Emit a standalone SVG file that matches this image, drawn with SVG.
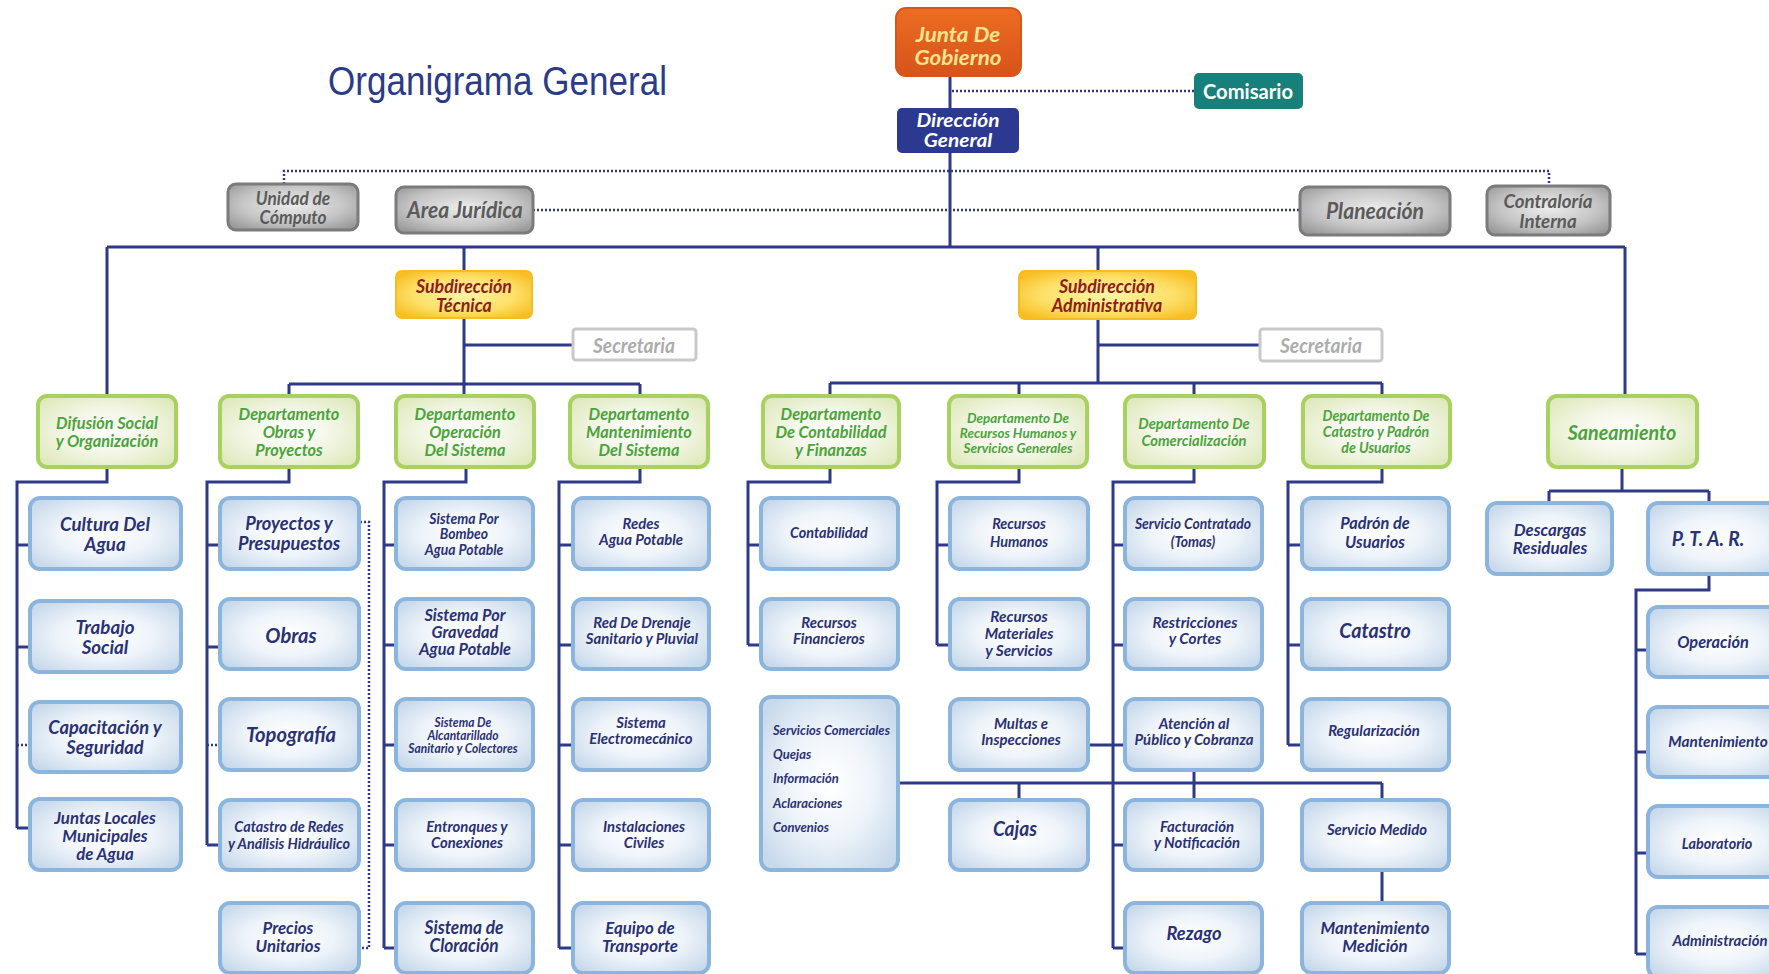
<svg xmlns="http://www.w3.org/2000/svg" width="1769" height="974" viewBox="0 0 1769 974">
<defs>
<radialGradient id="gBlue" cx="50%" cy="50%" r="62%"><stop offset="0" stop-color="#ffffff"/><stop offset="0.5" stop-color="#eef4fa"/><stop offset="1" stop-color="#c8d9eb"/></radialGradient>
<radialGradient id="gGreen" cx="50%" cy="50%" r="62%"><stop offset="0" stop-color="#ffffff"/><stop offset="0.5" stop-color="#f3f6e6"/><stop offset="1" stop-color="#dfe9bd"/></radialGradient>
<radialGradient id="gGray" cx="50%" cy="45%" r="65%"><stop offset="0" stop-color="#ececec"/><stop offset="0.6" stop-color="#c6c6c6"/><stop offset="1" stop-color="#9a9a9a"/></radialGradient>
<radialGradient id="gYellow" cx="50%" cy="50%" r="62%"><stop offset="0" stop-color="#fff4a8"/><stop offset="0.6" stop-color="#fde068"/><stop offset="1" stop-color="#f8be24"/></radialGradient>
<linearGradient id="gOrange" x1="0" y1="0" x2="0" y2="1"><stop offset="0" stop-color="#ec6c22"/><stop offset="1" stop-color="#d6541a"/></linearGradient>
</defs>
<style>
.ln{stroke:#2e3a88;stroke-width:3;fill:none}
.dt{stroke:#2e3a88;stroke-width:2.5;stroke-dasharray:2 2;fill:none}
.cb{fill:url(#gBlue);stroke:#8bb5dc;stroke-width:4}
.gb{fill:url(#gGreen);stroke:#a9d15f;stroke-width:4}
.yb{fill:url(#gYellow);stroke:#f6bd22;stroke-width:2}
.xb{fill:url(#gGray);stroke:#7b7b7b;stroke-width:3}
.n text{font-family:Lato,"Open Sans","Liberation Sans",sans-serif;font-weight:bold;font-style:italic;text-anchor:middle;dominant-baseline:central;transform-box:fill-box;transform-origin:center;transform:scaleX(0.96)}
.n text.ls{text-anchor:start;transform-origin:left center}
.n text.up{font-style:normal}
.tc{fill:#2a3175}
.tg{fill:#4ca33c}
.tx{fill:#5b5b5b}
.ty{fill:#8e1c1c}
</style>
<rect x="0" y="0" width="1769" height="974" fill="#ffffff"/>
<text x="328" y="95" font-family="'Liberation Sans',Arial,sans-serif" font-size="41" fill="#2c3a8a" textLength="339" lengthAdjust="spacingAndGlyphs">Organigrama General</text>

<g id="connectors">
<path class="ln" d="M950 76V108M950 153V247M107 247H1625M107 247V396M464 247V271M1098 247V271M1625 247V396"/>
<path class="ln" d="M464 318V384M464 345H573M289 384H640M289 384V396M464 384V396M640 384V396"/>
<path class="ln" d="M1098 319V383M1098 345H1260M830 383H1382M830 383V396M1019 383V396M1194 383V396M1382 383V396"/>
<path class="ln" d="M107 467V482H17V828M17 545H30M17 647H30M17 828H30"/>
<path class="ln" d="M289 467V482H207V845M207 545H220M207 647H220M207 845H220"/>
<path class="ln" d="M466 467V482H384V948M384 545H396M384 645H396M384 745H396M384 845H396M384 948H396"/>
<path class="ln" d="M640 467V482H559V948M559 545H573M559 645H573M559 745H573M559 845H573M559 948H573"/>
<path class="ln" d="M830 467V482H748V645M748 545H761M748 645H761"/>
<path class="ln" d="M1019 467V482H937V645M937 545H950M937 645H950"/>
<path class="ln" d="M1194 467V482H1113V948M1113 545H1125M1113 645H1125M1088 745H1125M1113 845H1125M1113 948H1125"/>
<path class="ln" d="M1382 467V482H1288V745M1288 545H1302M1288 645H1302M1288 745H1302"/>
<path class="ln" d="M898 783H1382M1019 783V800M1194 770V800M1382 783V800M1382 870V903"/>
<path class="ln" d="M1622 467V491M1549 491H1709M1549 491V503M1709 491V503M1709 574V590H1636V954M1636 650H1648M1636 752H1648M1636 853H1648M1636 954H1648"/>
<path class="dt" d="M952 91H1194M284 184V171H1549V186M533 210H1300"/>
<path class="dt" d="M17 745H30M207 745H220M360 522H369V948H359"/>
</g>

<g id="junta" class="n"><rect x="896" y="8" width="125" height="68" rx="10" fill="url(#gOrange)" stroke="#d4561c" stroke-width="2"/><text font-size="21" fill="#fde48e" style="transform:scaleX(1.07)"><tspan x="958" y="34">Junta De</tspan><tspan x="958" y="57">Gobierno</tspan></text></g>
<g id="comisario" class="n"><rect x="1194" y="73" width="109" height="36" rx="5" fill="#17807b"/><text class="up" x="1248" y="91" font-size="21" fill="#ffffff">Comisario</text></g>
<g id="direccion" class="n"><rect x="897" y="108" width="122" height="45" rx="5" fill="#2b3990"/><text font-size="18.5" fill="#ffffff" style="transform:scaleX(1.13)"><tspan x="958" y="120">Dirección</tspan><tspan x="958" y="140">General</tspan></text></g>
<g id="unidad" class="n"><rect x="228" y="184" width="130" height="46" rx="8" class="xb"/><text class="tx" font-size="18"><tspan x="293" y="198">Unidad de</tspan><tspan x="293" y="217">Cómputo</tspan></text></g>
<g id="juridica" class="n"><rect x="396" y="187" width="137" height="46" rx="8" class="xb"/><text class="tx" x="465" y="210" font-size="22">Area Jurídica</text></g>
<g id="planeacion" class="n"><rect x="1300" y="187" width="150" height="48" rx="8" class="xb"/><text class="tx" x="1375" y="211" font-size="22">Planeación</text></g>
<g id="contraloria" class="n"><rect x="1487" y="186" width="123" height="49" rx="8" class="xb"/><text class="tx" font-size="19.5"><tspan x="1548" y="200">Contraloría</tspan><tspan x="1548" y="220">Interna</tspan></text></g>
<g id="subtecnica" class="n"><rect x="396" y="271" width="136" height="47" rx="6" class="yb"/><text class="ty" font-size="18.5"><tspan x="464" y="286">Subdirección</tspan><tspan x="464" y="305">Técnica</tspan></text></g>
<g id="subadmin" class="n"><rect x="1019" y="271" width="177" height="48" rx="6" class="yb"/><text class="ty" font-size="18.5"><tspan x="1107" y="286">Subdirección</tspan><tspan x="1107" y="305">Administrativa</tspan></text></g>
<g id="secretaria1" class="n"><rect x="573" y="329" width="123" height="31" rx="3" fill="#ffffff" stroke="#c9c9c9" stroke-width="3"/><text x="634" y="345" font-size="20" fill="#acacac">Secretaria</text></g>
<g id="secretaria2" class="n"><rect x="1260" y="329" width="122" height="32" rx="3" fill="#ffffff" stroke="#c9c9c9" stroke-width="3"/><text x="1321" y="345" font-size="20" fill="#acacac">Secretaria</text></g>

<g id="difusion" class="n"><rect x="38" y="396" width="138" height="71" rx="9" class="gb"/><text class="tg" font-size="17"><tspan x="107" y="423">Difusión Social</tspan><tspan x="107" y="441">y Organización</tspan></text></g>
<g id="dep-obras" class="n"><rect x="220" y="396" width="138" height="71" rx="9" class="gb"/><text class="tg" font-size="17"><tspan x="289" y="414">Departamento</tspan><tspan x="289" y="432">Obras y</tspan><tspan x="289" y="450">Proyectos</tspan></text></g>
<g id="dep-operacion" class="n"><rect x="396" y="396" width="138" height="71" rx="9" class="gb"/><text class="tg" font-size="17"><tspan x="465" y="414">Departamento</tspan><tspan x="465" y="432">Operación</tspan><tspan x="465" y="450">Del Sistema</tspan></text></g>
<g id="dep-mantenimiento" class="n"><rect x="570" y="396" width="138" height="71" rx="9" class="gb"/><text class="tg" font-size="17"><tspan x="639" y="414">Departamento</tspan><tspan x="639" y="432">Mantenimiento</tspan><tspan x="639" y="450">Del Sistema</tspan></text></g>
<g id="dep-contabilidad" class="n"><rect x="763" y="396" width="136" height="71" rx="9" class="gb"/><text class="tg" font-size="17"><tspan x="831" y="414">Departamento</tspan><tspan x="831" y="432">De Contabilidad</tspan><tspan x="831" y="450">y Finanzas</tspan></text></g>
<g id="dep-rh" class="n"><rect x="949" y="396" width="138" height="71" rx="9" class="gb"/><text class="tg" font-size="14"><tspan x="1018" y="417">Departamento De</tspan><tspan x="1018" y="432">Recursos Humanos y</tspan><tspan x="1018" y="447">Servicios Generales</tspan></text></g>
<g id="dep-comercializacion" class="n"><rect x="1125" y="396" width="139" height="71" rx="9" class="gb"/><text class="tg" font-size="15.3"><tspan x="1194" y="423">Departamento De</tspan><tspan x="1194" y="440">Comercialización</tspan></text></g>
<g id="dep-catastro" class="n"><rect x="1303" y="396" width="147" height="71" rx="9" class="gb"/><text class="tg" font-size="14.7"><tspan x="1376" y="415">Departamento De</tspan><tspan x="1376" y="431">Catastro y Padrón</tspan><tspan x="1376" y="447">de Usuarios</tspan></text></g>
<g id="saneamiento" class="n"><rect x="1548" y="396" width="149" height="71" rx="9" class="gb"/><text class="tg" x="1622" y="432" font-size="20.5">Saneamiento</text></g>

<g id="cultura" class="n"><rect x="30" y="498" width="151" height="71" rx="10" class="cb"/><text class="tc" font-size="19.5"><tspan x="105" y="523">Cultura Del</tspan><tspan x="105" y="543">Agua</tspan></text></g>
<g id="trabajo" class="n"><rect x="30" y="601" width="151" height="71" rx="10" class="cb"/><text class="tc" font-size="19.5"><tspan x="105" y="626">Trabajo</tspan><tspan x="105" y="646">Social</tspan></text></g>
<g id="capacitacion" class="n"><rect x="30" y="702" width="151" height="70" rx="10" class="cb"/><text class="tc" font-size="19"><tspan x="105" y="727">Capacitación y</tspan><tspan x="105" y="747">Seguridad</tspan></text></g>
<g id="juntas" class="n"><rect x="30" y="799" width="151" height="71" rx="10" class="cb"/><text class="tc" font-size="17.5"><tspan x="105" y="817">Juntas Locales</tspan><tspan x="105" y="835">Municipales</tspan><tspan x="105" y="853">de Agua</tspan></text></g>

<g id="proyectos" class="n"><rect x="220" y="498" width="139" height="71" rx="10" class="cb"/><text class="tc" font-size="19"><tspan x="289" y="523">Proyectos y</tspan><tspan x="289" y="543">Presupuestos</tspan></text></g>
<g id="obras" class="n"><rect x="220" y="599" width="139" height="70" rx="10" class="cb"/><text class="tc" x="291" y="635" font-size="21">Obras</text></g>
<g id="topografia" class="n"><rect x="220" y="699" width="139" height="71" rx="10" class="cb"/><text class="tc" x="291" y="734" font-size="21">Topografía</text></g>
<g id="catastro-redes" class="n"><rect x="220" y="800" width="139" height="70" rx="10" class="cb"/><text class="tc" font-size="15"><tspan x="289" y="826">Catastro de Redes</tspan><tspan x="289" y="843">y Análisis Hidráulico</tspan></text></g>
<g id="precios" class="n"><rect x="220" y="903" width="139" height="70" rx="10" class="cb"/><text class="tc" font-size="17.5"><tspan x="288" y="927">Precios</tspan><tspan x="288" y="945">Unitarios</tspan></text></g>

<g id="bombeo" class="n"><rect x="396" y="498" width="137" height="71" rx="10" class="cb"/><text class="tc" font-size="14.5"><tspan x="464" y="518">Sistema Por</tspan><tspan x="464" y="533">Bombeo</tspan><tspan x="464" y="549">Agua Potable</tspan></text></g>
<g id="gravedad" class="n"><rect x="396" y="599" width="137" height="70" rx="10" class="cb"/><text class="tc" font-size="17"><tspan x="465" y="615">Sistema Por</tspan><tspan x="465" y="632">Gravedad</tspan><tspan x="465" y="649">Agua Potable</tspan></text></g>
<g id="alcantarillado" class="n"><rect x="396" y="699" width="137" height="71" rx="10" class="cb"/><text class="tc" font-size="12.5"><tspan x="463" y="722">Sistema De</tspan><tspan x="463" y="735">Alcantarillado</tspan><tspan x="463" y="748">Sanitario y Colectores</tspan></text></g>
<g id="entronques" class="n"><rect x="396" y="800" width="137" height="70" rx="10" class="cb"/><text class="tc" font-size="15.5"><tspan x="467" y="826">Entronques y</tspan><tspan x="467" y="842">Conexiones</tspan></text></g>
<g id="cloracion" class="n"><rect x="396" y="903" width="137" height="70" rx="10" class="cb"/><text class="tc" font-size="18"><tspan x="464" y="927">Sistema de</tspan><tspan x="464" y="945">Cloración</tspan></text></g>

<g id="redes" class="n"><rect x="573" y="498" width="136" height="71" rx="10" class="cb"/><text class="tc" font-size="15.5"><tspan x="641" y="523">Redes</tspan><tspan x="641" y="539">Agua Potable</tspan></text></g>
<g id="drenaje" class="n"><rect x="573" y="599" width="136" height="70" rx="10" class="cb"/><text class="tc" font-size="15.5"><tspan x="642" y="622">Red De Drenaje</tspan><tspan x="642" y="638">Sanitario y Pluvial</tspan></text></g>
<g id="electromecanico" class="n"><rect x="573" y="699" width="136" height="71" rx="10" class="cb"/><text class="tc" font-size="15.5"><tspan x="641" y="722">Sistema</tspan><tspan x="641" y="738">Electromecánico</tspan></text></g>
<g id="instalaciones" class="n"><rect x="573" y="800" width="136" height="70" rx="10" class="cb"/><text class="tc" font-size="15.5"><tspan x="644" y="826">Instalaciones</tspan><tspan x="644" y="842">Civiles</tspan></text></g>
<g id="transporte" class="n"><rect x="573" y="903" width="136" height="70" rx="10" class="cb"/><text class="tc" font-size="17.5"><tspan x="640" y="927">Equipo de</tspan><tspan x="640" y="945">Transporte</tspan></text></g>

<g id="contabilidad" class="n"><rect x="761" y="498" width="137" height="71" rx="10" class="cb"/><text class="tc" x="829" y="532" font-size="15">Contabilidad</text></g>
<g id="financieros" class="n"><rect x="761" y="599" width="137" height="70" rx="10" class="cb"/><text class="tc" font-size="15.5"><tspan x="829" y="622">Recursos</tspan><tspan x="829" y="638">Financieros</tspan></text></g>
<g id="servicios-comerciales" class="n"><rect x="761" y="697" width="137" height="173" rx="10" class="cb"/><text class="tc ls" font-size="13.5"><tspan x="773" y="730">Servicios Comerciales</tspan><tspan x="773" y="754">Quejas</tspan><tspan x="773" y="778">Información</tspan><tspan x="773" y="803">Aclaraciones</tspan><tspan x="773" y="827">Convenios</tspan></text></g>

<g id="rh" class="n"><rect x="950" y="498" width="138" height="71" rx="10" class="cb"/><text class="tc" font-size="15"><tspan x="1019" y="523">Recursos</tspan><tspan x="1019" y="541">Humanos</tspan></text></g>
<g id="materiales" class="n"><rect x="950" y="599" width="138" height="70" rx="10" class="cb"/><text class="tc" font-size="16"><tspan x="1019" y="616">Recursos</tspan><tspan x="1019" y="633">Materiales</tspan><tspan x="1019" y="650">y Servicios</tspan></text></g>
<g id="multas" class="n"><rect x="950" y="699" width="138" height="71" rx="10" class="cb"/><text class="tc" font-size="15.5"><tspan x="1021" y="723">Multas e</tspan><tspan x="1021" y="739">Inspecciones</tspan></text></g>
<g id="cajas" class="n"><rect x="950" y="800" width="138" height="70" rx="10" class="cb"/><text class="tc" x="1015" y="828" font-size="20">Cajas</text></g>

<g id="contratado" class="n"><rect x="1125" y="498" width="137" height="71" rx="10" class="cb"/><text class="tc" font-size="14.5"><tspan x="1193" y="523">Servicio Contratado</tspan><tspan x="1193" y="541">(Tomas)</tspan></text></g>
<g id="restricciones" class="n"><rect x="1125" y="599" width="137" height="70" rx="10" class="cb"/><text class="tc" font-size="16"><tspan x="1195" y="622">Restricciones</tspan><tspan x="1195" y="638">y Cortes</tspan></text></g>
<g id="atencion" class="n"><rect x="1125" y="699" width="137" height="71" rx="10" class="cb"/><text class="tc" font-size="15.5"><tspan x="1194" y="723">Atención al</tspan><tspan x="1194" y="739">Público y Cobranza</tspan></text></g>
<g id="facturacion" class="n"><rect x="1125" y="800" width="137" height="70" rx="10" class="cb"/><text class="tc" font-size="15.5"><tspan x="1197" y="826">Facturación</tspan><tspan x="1197" y="842">y Notificación</tspan></text></g>
<g id="rezago" class="n"><rect x="1125" y="903" width="137" height="70" rx="10" class="cb"/><text class="tc" x="1194" y="933" font-size="19">Rezago</text></g>

<g id="padron" class="n"><rect x="1302" y="498" width="147" height="71" rx="10" class="cb"/><text class="tc" font-size="17"><tspan x="1375" y="523">Padrón de</tspan><tspan x="1375" y="542">Usuarios</tspan></text></g>
<g id="catastro" class="n"><rect x="1302" y="599" width="147" height="70" rx="10" class="cb"/><text class="tc" x="1375" y="630" font-size="20.5">Catastro</text></g>
<g id="regularizacion" class="n"><rect x="1302" y="699" width="147" height="71" rx="10" class="cb"/><text class="tc" x="1374" y="730" font-size="15.5">Regularización</text></g>
<g id="medido" class="n"><rect x="1302" y="800" width="147" height="70" rx="10" class="cb"/><text class="tc" x="1377" y="829" font-size="15.5">Servicio Medido</text></g>
<g id="medicion" class="n"><rect x="1302" y="903" width="147" height="70" rx="10" class="cb"/><text class="tc" font-size="17.5"><tspan x="1375" y="927">Mantenimiento</tspan><tspan x="1375" y="945">Medición</tspan></text></g>

<g id="descargas" class="n"><rect x="1487" y="503" width="125" height="71" rx="10" class="cb"/><text class="tc" font-size="17.5"><tspan x="1550" y="529">Descargas</tspan><tspan x="1550" y="547">Residuales</tspan></text></g>
<g id="ptar" class="n"><rect x="1648" y="503" width="142" height="71" rx="10" class="cb"/><text class="tc" x="1708" y="538" font-size="20">P. T. A. R.</text></g>
<g id="operacion" class="n"><rect x="1648" y="607" width="142" height="70" rx="10" class="cb"/><text class="tc" x="1713" y="642" font-size="17">Operación</text></g>
<g id="mantenimiento" class="n"><rect x="1648" y="707" width="142" height="70" rx="10" class="cb"/><text class="tc" x="1718" y="741" font-size="16">Mantenimiento</text></g>
<g id="laboratorio" class="n"><rect x="1648" y="806" width="142" height="71" rx="10" class="cb"/><text class="tc" x="1717" y="843" font-size="15">Laboratorio</text></g>
<g id="administracion" class="n"><rect x="1648" y="907" width="142" height="70" rx="10" class="cb"/><text class="tc" x="1720" y="940" font-size="15.5">Administración</text></g>
</svg>
